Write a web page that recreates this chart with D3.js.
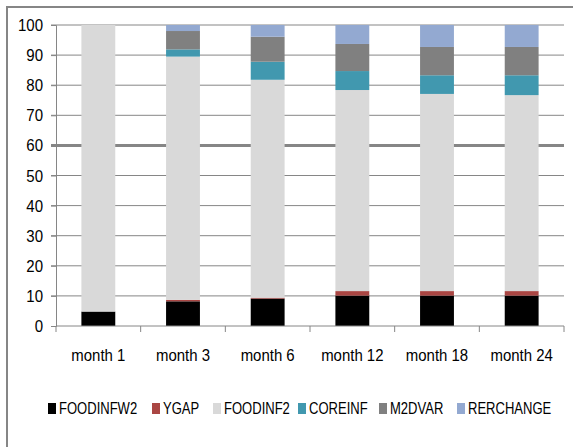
<!DOCTYPE html>
<html>
<head>
<meta charset="utf-8">
<script src="https://cdn.jsdelivr.net/npm/d3@7"></script>
<style>
  body { margin: 0; background: #fff; }
  #chart { width: 573px; height: 447px; }
  text { font-family: "Liberation Sans", Arial, sans-serif; fill: #000; }
</style>
</head>
<body>
<div id="chart"></div>
<script>
// data
const months = ["month 1", "month 3", "month 6", "month 12", "month 18", "month 24"];
const seriesNames = ["FOODINFW2", "YGAP", "FOODINF2", "COREINF", "M2DVAR", "RERCHANGE"];
const colors = ["#000000", "#AA4643", "#D9D9D9", "#4198AF", "#808080", "#93A9D1"];
const foodinfw2 = [4.8, 8.2, 9.1, 10.1, 10.1, 10.1];
const ygap = [0, 0.5, 0.3, 1.5, 1.5, 1.5];
const foodinf2 = [95.2, 80.8, 72.4, 66.8, 65.5, 65.1];
const coreinf = [0, 2.4, 6.0, 6.3, 6.2, 6.6];
const m2dvar = [0, 6.1, 8.3, 9.0, 9.4, 9.4];
const rerchange = [0, 2.0, 3.9, 6.3, 7.3, 7.3];
const yTicks = [0, 10, 20, 30, 40, 50, 60, 70, 80, 90, 100];

const width = 573, height = 447;
const margin = { top: 25, left: 56, right: 9, bottom: 121 };

const svg = d3.select("#chart").append("svg")
    .attr("width", width)
    .attr("height", height);

// outer chart border (only top + left are visible in the crop)
svg.append("path")
    .attr("d", `M7,${height} L7,7 L${width},7`)
    .attr("fill", "none")
    .attr("stroke", "#868686")
    .attr("stroke-width", 2);

const table = months.map((m, i) => ({
    month: m,
    FOODINFW2: foodinfw2[i], YGAP: ygap[i], FOODINF2: foodinf2[i],
    COREINF: coreinf[i], M2DVAR: m2dvar[i], RERCHANGE: rerchange[i]
}));

const xScale = d3.scaleBand()
    .domain(months)
    .range([margin.left, width - margin.right])
    .paddingInner(0.6)
    .paddingOuter(0.3);

const yScale = d3.scaleLinear()
    .domain([0, 100])
    .range([height - margin.bottom, margin.top]);

// condensed text helper (the original font is narrow)
function narrowText(g, x, y, sx, size, anchor) {
    return g.append("text")
        .attr("transform", `translate(${x},${y}) scale(${sx},1)`)
        .attr("text-anchor", anchor)
        .style("font-size", size + "px");
}

// gridlines
svg.append("g").selectAll("line")
    .data(yTicks.filter(d => d > 0))
    .enter().append("line")
    .attr("x1", margin.left - 5)
    .attr("x2", width - margin.right)
    .attr("y1", d => yScale(d))
    .attr("y2", d => yScale(d))
    .attr("stroke", "#868686")
    .attr("stroke-width", d => d == 60 ? 3 : 1);

const stacked = d3.stack().keys(seriesNames)(table);

svg.append("g").selectAll("g")
    .data(stacked)
    .enter().append("g")
    .attr("fill", (d, i) => colors[i])
    .selectAll("rect")
    .data(d => d)
    .enter().append("rect")
    .attr("x", d => xScale(d.data.month))
    .attr("y", d => yScale(d[1]))
    .attr("width", xScale.bandwidth())
    .attr("height", d => yScale(d[0]) - yScale(d[1]));

// y axis
const yAxis = svg.append("g")
    .attr("transform", `translate(${margin.left},0)`)
    .call(d3.axisLeft(yScale).tickValues(yTicks).tickSize(5).tickFormat(""));
yAxis.selectAll("line, path").attr("stroke", "#868686");
const yLab = svg.append("g");
yTicks.forEach(v => {
    narrowText(yLab, 43, yScale(v) + 6, 0.91, 16.5, "end").text(v);
});

// x axis with ticks between categories
const y0 = yScale(0);
svg.append("line")
    .attr("x1", margin.left).attr("x2", width - margin.right)
    .attr("y1", y0).attr("y2", y0)
    .attr("stroke", "#868686");
svg.append("g").selectAll("line")
    .data(d3.range(months.length + 1))
    .enter().append("line")
    .attr("x1", d => margin.left + d * (width - margin.left - margin.right) / months.length)
    .attr("x2", d => margin.left + d * (width - margin.left - margin.right) / months.length)
    .attr("y1", y0).attr("y2", y0 + 6)
    .attr("stroke", "#868686");

const xLab = svg.append("g");
months.forEach(m => {
    narrowText(xLab, xScale(m) + xScale.bandwidth() / 2, 361, 0.88, 17, "middle").text(m);
});

// legend
const legendX = [48, 152, 213, 298, 379, 457];
const legend = svg.append("g");
seriesNames.forEach((s, i) => {
    legend.append("rect")
        .attr("x", legendX[i]).attr("y", 403)
        .attr("width", 8).attr("height", 11)
        .attr("fill", colors[i]);
    narrowText(legend, legendX[i] + 11, 414, 0.79, 16.5, "start").text(s);
});
</script>
</body>
</html>
